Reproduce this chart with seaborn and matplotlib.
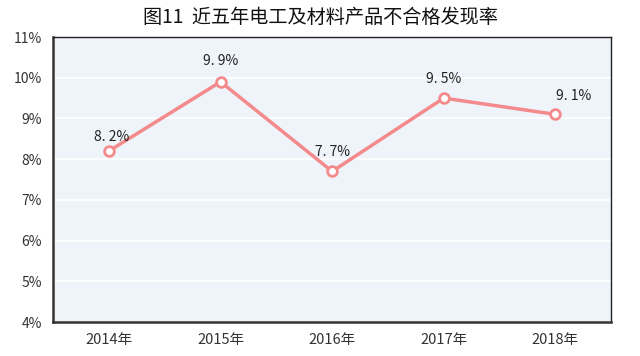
import matplotlib
matplotlib.use("Agg")
import matplotlib.pyplot as plt
import seaborn as sns
import pandas as pd

years = ["2014年", "2015年", "2016年", "2017年", "2018年"]
rates = [8.2, 9.9, 7.7, 9.5, 9.1]
yticks = [4, 5, 6, 7, 8, 9, 10, 11]

sns.set_style("white")
plt.rcParams['font.family'] = ['Noto Sans CJK SC', 'DejaVu Sans']

df = pd.DataFrame({"year": years, "rate": rates})

fig = plt.figure(figsize=(6.4, 3.56), dpi=100)
ax = fig.add_axes([0.083, 0.0955, 0.872, 0.8005])
ax.set_facecolor("#eef4fa")

line_color = "#f48a8b"
sns.lineplot(data=df, x="year", y="rate", ax=ax, color=line_color, linewidth=2.5,
             marker="o", markersize=7, markerfacecolor="white",
             markeredgecolor=line_color, markeredgewidth=2, sort=False)

label_dx = [2, 0, 0, 0, 13]
label_dy = [5, 10, 9, 9, 8]
for i, v in enumerate(rates):
    ax.annotate(f"{v:.1f}%".replace(".", ". "), (i, v), xytext=(label_dx[i], label_dy[i]),
                textcoords="offset points", ha="center", va="bottom", fontsize=10,
                color="#222222")

ax.set_ylim(4, 11)
ax.set_xlim(-0.5, 4.5)
ax.set_yticks(yticks)
ax.set_yticklabels([f"{t}%" for t in yticks], fontsize=10, color="#333333")
ax.tick_params(axis="x", labelsize=10.5, colors="#333333", length=0, pad=8)
ax.tick_params(axis="y", length=0, pad=8)
ax.yaxis.grid(True, color="white", linewidth=1.2)
ax.set_axisbelow(True)
ax.set_xlabel("")
ax.set_ylabel("")

for s in ["top", "right"]:
    ax.spines[s].set_color("#222222")
    ax.spines[s].set_linewidth(1.0)
for s in ["left", "bottom"]:
    ax.spines[s].set_color("#333333")
    ax.spines[s].set_linewidth(1.8)

fig.text(0.5, 0.952, "图11  近五年电工及材料产品不合格发现率", ha="center", va="center",
         fontsize=13.8, color="#111111")

fig.savefig("out.png", dpi=100)
